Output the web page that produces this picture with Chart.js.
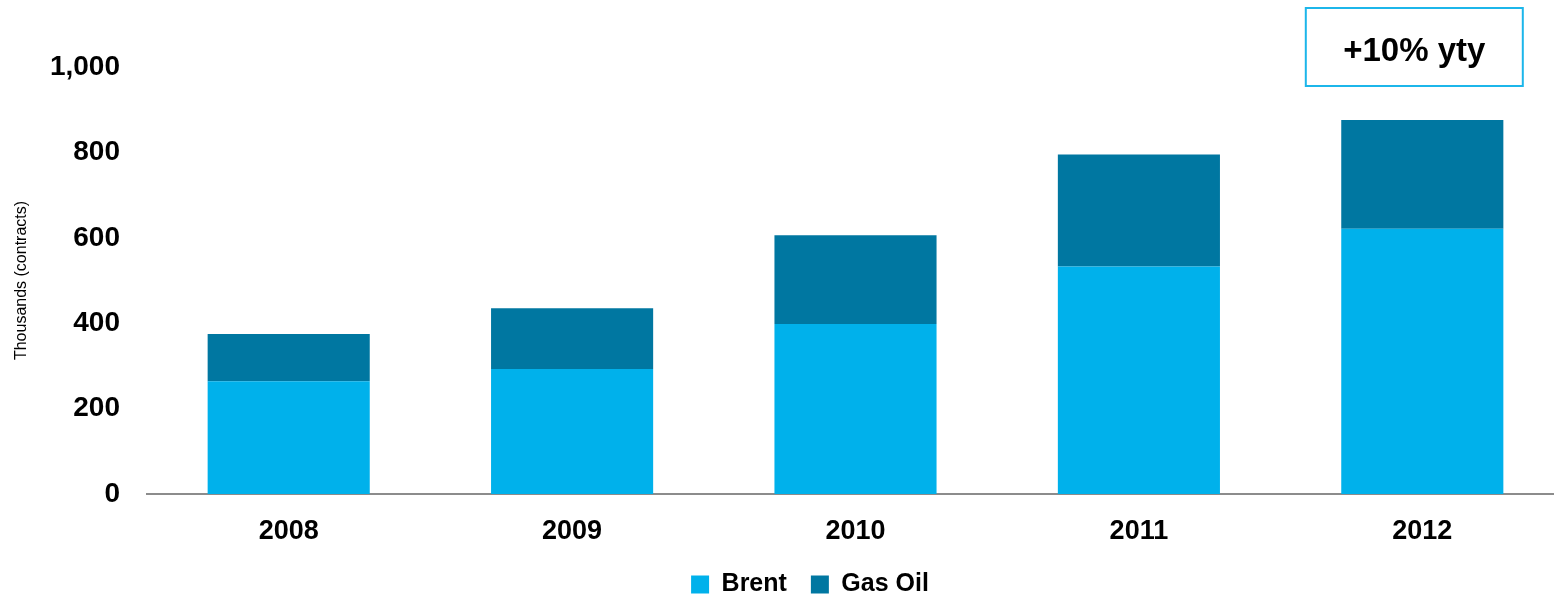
<!DOCTYPE html>
<html>
<head>
<meta charset="utf-8">
<script src="https://cdn.jsdelivr.net/npm/chart.js@4/dist/chart.umd.min.js"></script>
<style>
  html, body { margin: 0; padding: 0; background: #fff; overflow: hidden; }
  #wrap { width: 1564px; height: 595px; }
</style>
</head>
<body>
<div id="wrap"><canvas id="chart1" width="1564" height="595"></canvas></div>
<script>
// Data
const years = ['2008', '2009', '2010', '2011', '2012'];
const brent = [264, 293, 398, 533, 621];
const gasOil = [111, 142, 208, 262, 255];
const yTicks = [0, 200, 400, 600, 800, 1000];
const calloutText = '+10% yty';

const FONT = 'Liberation Sans, Arial, sans-serif';

// Callout box above the last bar
const calloutBox = {
    id: 'calloutBox',
    afterDraw(chart) {
        const { ctx, scales } = chart;
        const cx = scales.x.getPixelForValue(years.length - 1) - 8;
        const w = 217, h = 78, top = 8;
        ctx.save();
        ctx.strokeStyle = '#1cb6ea';
        ctx.lineWidth = 2;
        ctx.strokeRect(cx - w / 2, top, w, h);
        ctx.fillStyle = '#000';
        ctx.font = 'bold 33px ' + FONT;
        ctx.textAlign = 'center';
        ctx.textBaseline = 'middle';
        ctx.fillText(calloutText, cx, top + h / 2 + 5);
        ctx.restore();
    }
};

// Nudge legend a little to the right
const legendShift = {
    id: 'legendShift',
    afterLayout(chart) {
        chart.legend.left += 28;
        chart.legend.right += 28;
    }
};

const createChart = (ctx) => {
    new Chart(ctx, {
        type: 'bar',
        data: {
            labels: years,
            datasets: [{
                label: 'Brent',
                data: brent,
                backgroundColor: '#00b1eb',
            }, {
                label: 'Gas Oil',
                data: gasOil,
                backgroundColor: '#0077a1',
            }]
        },
        options: {
            responsive: false,
            animation: false,
            datasets: {
                bar: { barPercentage: 1, categoryPercentage: 0.572 }
            },
            layout: { padding: { top: 67, right: 0, left: 0, bottom: -12 } },
            scales: {
                x: {
                    stacked: true,
                    grid: { display: false, drawTicks: false },
                    border: { display: true, color: '#8c8c8c', width: 2 },
                    ticks: {
                        color: '#000',
                        padding: 21,
                        font: { family: FONT, size: 27, weight: 'bold' }
                    },
                    afterFit: (scale) => { scale.height = 54; }
                },
                y: {
                    stacked: true,
                    min: 0,
                    max: 1000,
                    afterBuildTicks: (scale) => { scale.ticks = yTicks.map(v => ({ value: v })); },
                    grid: { display: false, drawTicks: false },
                    border: { display: false },
                    ticks: {
                        color: '#000',
                        padding: 27,
                        font: { family: FONT, size: 28, weight: 'bold' },
                        callback: (v) => v.toLocaleString('en-US')
                    },
                    title: {
                        display: true,
                        text: 'Thousands (contracts)',
                        color: '#000',
                        padding: { top: 12, bottom: 0 },
                        font: { family: FONT, size: 16 }
                    },
                    afterFit: (scale) => { scale.width = 147; }
                }
            },
            plugins: {
                legend: {
                    position: 'bottom',
                    labels: {
                        color: '#000',
                        boxWidth: 18,
                        boxHeight: 18,
                        padding: 24,
                        font: { family: FONT, size: 25, weight: 'bold' }
                    }
                },
                tooltip: { enabled: false }
            }
        },
        plugins: [calloutBox, legendShift]
    });
};

window.onload = () => {
    const ctx1 = document.getElementById('chart1').getContext('2d');
    createChart(ctx1);
};
</script>
</body>
</html>
